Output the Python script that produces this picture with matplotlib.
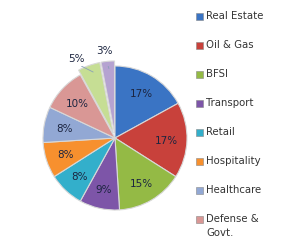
import matplotlib.pyplot as plt
import numpy as np
from matplotlib.patches import Rectangle

# Sector shares (%)
sectors = ['Real Estate', 'Oil & Gas', 'BFSI', 'Transport', 'Retail',
           'Hospitality', 'Healthcare', 'Defense &\nGovt.', 'Others 1', 'Others 2']
shares = [17, 17, 15, 9, 8, 8, 8, 10, 5, 3]
colors = ['#3a74c4', '#c8413b', '#94ba45', '#7d55a8', '#33afcb',
          '#f7902e', '#92a8d4', '#d99795', '#c6de94', '#b5a3d1']
explode = [0, 0, 0, 0, 0, 0, 0, 0, 0.07, 0.07]
legend_count = 8

W, H = 287, 251
fig = plt.figure(figsize=(W / 100, H / 100), dpi=100)
cx, cy, r = 115, 139, 72
ax = fig.add_axes([(cx - r) / W, (H - cy - r) / H, 2 * r / W, 2 * r / H])

wedges, texts, autotexts = ax.pie(
    shares, colors=colors, explode=explode, startangle=90, counterclock=False,
    autopct='%d%%', pctdistance=0.72, radius=1,
    wedgeprops=dict(edgecolor='#d8d8d8', linewidth=0.8),
    textprops=dict(fontsize=7.5, color='#1c2540'))

# move the small slices' labels outside with leader lines
for w, t, shift in zip(wedges[-2:], autotexts[-2:], [0.09, 0.02]):
    ang = np.deg2rad((w.theta1 + w.theta2) / 2)
    a2 = ang + shift
    t.set_position((1.26 * np.cos(a2), 1.23 * np.sin(a2)))
    ax.plot([1.1 * np.cos(a2), 0.9 * np.cos(ang)],
            [1.1 * np.sin(a2), 0.9 * np.sin(ang) + 0.07],
            color='#8aa0b8', lw=0.6)

ax.set_xlim(-1, 1)
ax.set_ylim(-1, 1)
ax.set_aspect('auto')
ax.axis('off')

# legend, drawn by hand so the two-line entry keeps its square on the first line
for i, (label, c) in enumerate(zip(sectors[:legend_count], colors[:legend_count])):
    y = 17 + 29 * i
    fig.add_artist(Rectangle(((196) / W, 1 - (y + 3.5) / H), 7 / W, 7 / H,
                             transform=fig.transFigure, facecolor=c,
                             edgecolor='#888888', linewidth=0.4))
    fig.text(206 / W, 1 - (y - 6) / H, label, ha='left', va='top',
             fontsize=7.3, color='#333333', linespacing=1.45)

fig.savefig('out.png', dpi=100)
